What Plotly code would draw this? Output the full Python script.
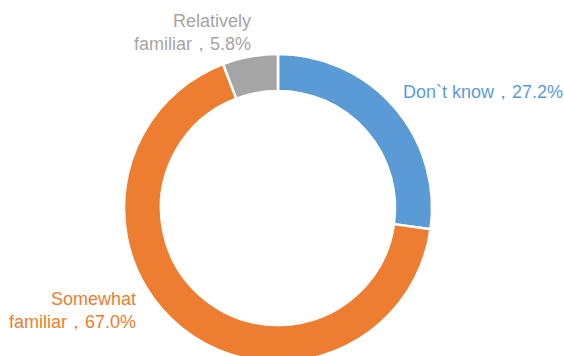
import plotly.graph_objects as go

categories = ["Don`t know", "Somewhat familiar", "Relatively familiar"]
values = [27.2, 67.0, 5.8]
colors = ["#5B9BD5", "#ED7D31", "#A5A5A5"]
label_lines = [["Don`t know"], ["Somewhat", "familiar"], ["Relatively", "familiar"]]

W, H = 564, 364
cx, cy, r = 278, 208, 154

fig = go.Figure(go.Pie(
    labels=categories,
    values=values,
    marker=dict(colors=colors, line=dict(color="white", width=2.5)),
    hole=0.76,
    sort=False,
    direction="clockwise",
    rotation=0,
    textinfo="none",
    hoverinfo="label+percent",
    showlegend=False,
    domain=dict(x=[(cx - r) / W, (cx + r) / W], y=[max(0, (H - cy - r) / H), (H - cy + r) / H]),
))

def label_text(i):
    lines = label_lines[i][:]
    lines[-1] = lines[-1] + "，" + f"{values[i]:.1f}%"
    return "<br>".join(lines)

font_family = "Liberation Sans, Arial, sans-serif"
ann_specs = [
    (0, 401, 92, "left"),
    (1, 138, 310, "right"),
    (2, 253, 32, "right"),
]
for i, x, y, align in ann_specs:
    fig.add_annotation(
        x=x / W, y=1 - y / H, xref="paper", yref="paper",
        xanchor=align, yanchor="middle", align=align,
        text=label_text(i), showarrow=False,
        font=dict(family=font_family, size=18, color=colors[i]),
    )

fig.update_layout(
    width=W, height=H,
    margin=dict(l=0, r=0, t=0, b=0),
    paper_bgcolor="white",
    plot_bgcolor="white",
)
fig.write_html(
    "out.html",
    config={"displayModeBar": False},
    post_script="document.body.style.margin='0';document.documentElement.style.overflow='hidden';document.body.style.overflow='hidden';",
)
